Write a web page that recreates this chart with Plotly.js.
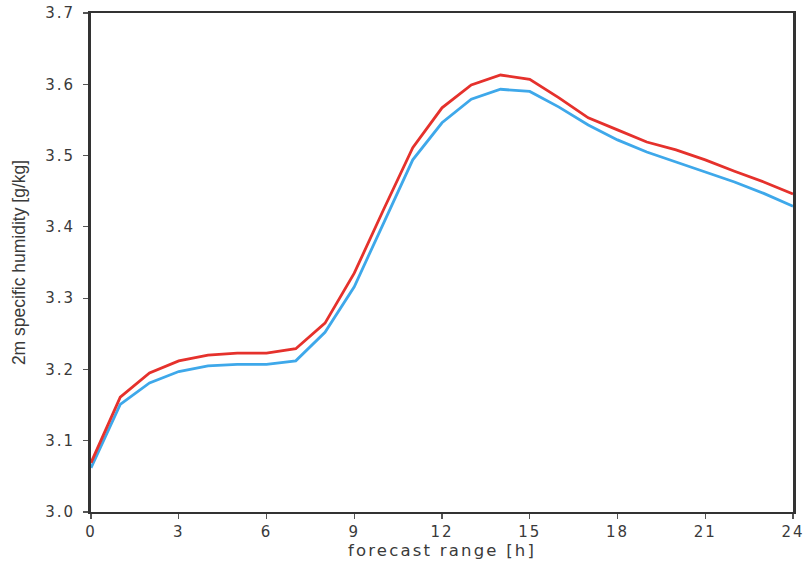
<!DOCTYPE html>
<html>
<head>
<meta charset="utf-8">
<script src="https://cdn.plot.ly/plotly-3.0.1.min.js"></script>
<style>
html,body{margin:0;padding:0;background:#fff;}
#chart{width:808px;height:568px;}
#chart .xtick text, #chart .ytick text {letter-spacing: 2px;}
#chart text.xtitle {letter-spacing: 2.2px;}
</style>
</head>
<body>
<div id="chart"></div>
<script>
const hours = [0,1,2,3,4,5,6,7,8,9,10,11,12,13,14,15,16,17,18,19,20,21,22,23,24];
const redSeries = [3.069,3.161,3.195,3.212,3.220,3.223,3.223,3.229,3.265,3.335,3.424,3.511,3.567,3.599,3.613,3.607,3.581,3.553,3.536,3.519,3.508,3.494,3.478,3.463,3.446];
const blueSeries = [3.062,3.151,3.181,3.197,3.205,3.207,3.207,3.212,3.252,3.316,3.405,3.494,3.546,3.579,3.593,3.590,3.568,3.543,3.522,3.505,3.491,3.477,3.463,3.447,3.429];
const xTicks = [0,3,6,9,12,15,18,21,24];
const yTicks = [3.0,3.1,3.2,3.3,3.4,3.5,3.6,3.7];

const wideFont = 'DejaVu Sans, Verdana, sans-serif';
const narrowFont = 'Liberation Sans, Arial, sans-serif';
const textColor = '#3a3a3a';
const traces = [
  {x: hours, y: blueSeries, type: 'scatter', mode: 'lines', line: {color: '#3ea8ea', width: 2.8}, showlegend: false},
  {x: hours, y: redSeries, type: 'scatter', mode: 'lines', line: {color: '#e5312c', width: 2.8}, showlegend: false}
];
const layout = {
  width: 808, height: 568,
  margin: {l: 91, r: 15, t: 13, b: 56},
  paper_bgcolor: '#fff', plot_bgcolor: '#fff',
  font: {family: wideFont, size: 15, color: textColor},
  xaxis: {
    range: [0, 24], tickvals: xTicks, ticktext: xTicks.map(String),
    showgrid: false, zeroline: false, showline: true, mirror: true,
    linecolor: '#333', linewidth: 2, ticks: 'outside', ticklen: 5, tickcolor: '#555', tickwidth: 1.2,
    tickfont: {family: wideFont, size: 15, color: textColor},
    title: {text: 'forecast range [h]', font: {family: wideFont, size: 16.5, color: textColor}, standoff: 3}
  },
  yaxis: {
    range: [3.0, 3.7], tickvals: yTicks, ticktext: yTicks.map(v => v.toFixed(1)),
    showgrid: false, zeroline: false, showline: true, mirror: true,
    linecolor: '#333', linewidth: 3, ticks: 'outside', ticklen: 5, tickcolor: '#555', tickwidth: 1.2,
    ticklabelstandoff: 5,
    tickfont: {family: wideFont, size: 15, color: textColor},
    title: {text: '2m specific humidity [g/kg]', font: {family: narrowFont, size: 17.5, color: textColor}, standoff: 22}
  }
};
Plotly.newPlot('chart', traces, layout, {displayModeBar: false, staticPlot: true});
</script>
</body>
</html>
